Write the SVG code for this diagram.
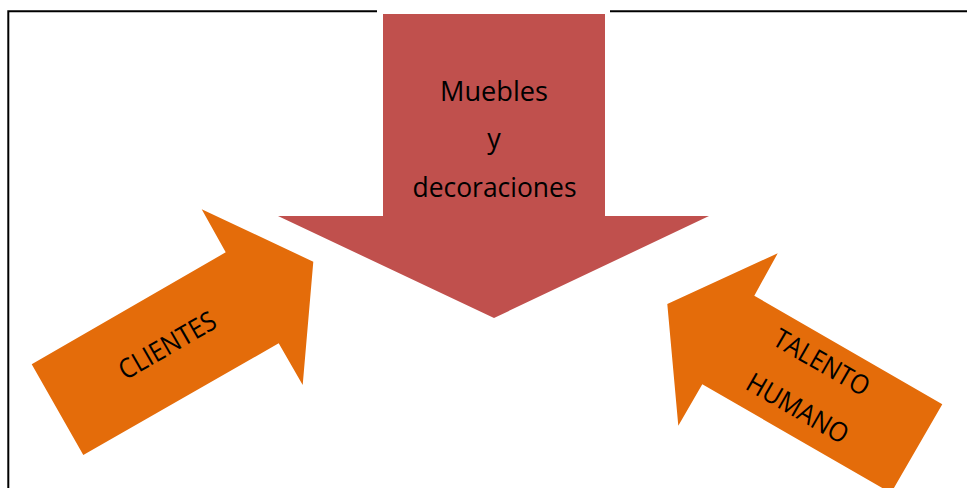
<svg xmlns="http://www.w3.org/2000/svg" width="967" height="488" viewBox="0 0 967 488">
<style>
.frame{stroke:#000;stroke-width:2;fill:none}
.red{fill:#C0504D}
.orange{fill:#E46C0A}
.lbl{font-family:"Open Sans","Lato","Liberation Sans",sans-serif;font-size:27px;fill:#000;text-anchor:middle}
</style>
<rect width="967" height="488" fill="#fff"/>
<g id="frame" class="frame">
<path d="M8.3,488 V11.3 H377"/>
<path d="M610,11.3 H967"/>
</g>
<g id="connectors"/>
<g id="muebles">
<polygon class="red" points="383,14 605,14 605,216 709,216 494,318 278,216 383,216"/>
<text class="lbl" x="494" y="100.7" textLength="108" lengthAdjust="spacingAndGlyphs">Muebles</text>
<text class="lbl" x="494" y="148">y</text>
<text class="lbl" x="494.5" y="197.3" textLength="164" lengthAdjust="spacingAndGlyphs">decoraciones</text>
</g>
<g id="clientes">
<polygon class="orange" points="31.7,364.3 225.7,252.3 201.7,209.3 313.3,261.7 302.7,385 278.7,343.3 83.3,455"/>
<text class="lbl" transform="translate(172,353.5) rotate(-30)" x="0" y="0" textLength="108" lengthAdjust="spacingAndGlyphs">CLIENTES</text>
</g>
<g id="talento">
<polygon class="orange" points="667.3,304 777.7,253.3 754.3,295.7 942.3,404.3 891,493 702.3,384.3 678.3,425.7"/>
<text class="lbl" transform="translate(817,370.5) rotate(30)" x="0" y="0" textLength="106" lengthAdjust="spacingAndGlyphs">TALENTO</text>
<text class="lbl" transform="translate(793,416.5) rotate(30)" x="0" y="0" textLength="113" lengthAdjust="spacingAndGlyphs">HUMANO</text>
</g>
</svg>
